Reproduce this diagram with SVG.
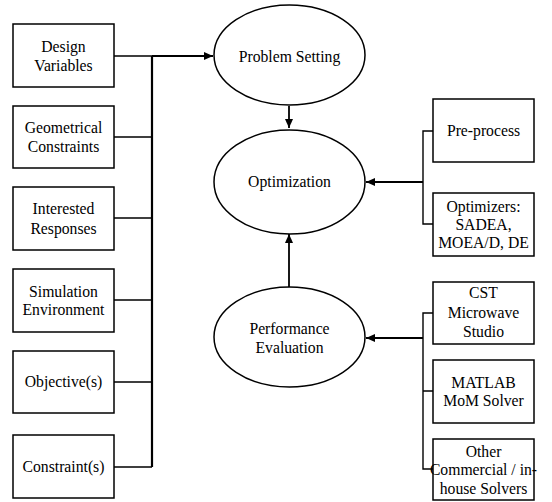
<svg xmlns="http://www.w3.org/2000/svg" width="552" height="502" viewBox="0 0 552 502">
<style>
.box{fill:#fff;stroke:#000;stroke-width:1.5}
.ell{fill:#fff;stroke:#000;stroke-width:1.5}
.ln{fill:none;stroke:#000;stroke-width:1.4}
.bus{fill:none;stroke:#000;stroke-width:2.2}
.t text{font-size:15.7px;text-anchor:middle;fill:#000}
</style>
<defs>
<marker id="ah" markerWidth="10" markerHeight="8" refX="9" refY="4" orient="auto" markerUnits="userSpaceOnUse">
<path d="M0,0 L9,4 L0,8 Z" fill="#000"/>
</marker>
</defs>
<rect width="552" height="502" fill="#fff"/>
<g id="connectors">
<path class="ln" d="M114,56 H152 M114,137 H152 M114,218 H152 M114,300 H152 M114,382 H152 M114,467 H152"/>
<path class="bus" d="M152,467 V56"/>
<path class="bus" d="M152,56 H213" marker-end="url(#ah)"/>
<path class="ln" d="M289,106 V128" marker-end="url(#ah)" style="stroke-width:1.8"/>
<path class="ln" d="M289,287 V234" marker-end="url(#ah)" style="stroke-width:1.8"/>
<path class="ln" d="M433,131 H423 V224 H433"/>
<path class="bus" d="M423,182 H366" marker-end="url(#ah)"/>
<path class="ln" d="M433,313 H423 V469 H433 M423,391 H433"/>
<path class="bus" d="M423,338 H366" marker-end="url(#ah)"/>
</g>
<g class="t" font-family="'Liberation Serif', 'Times New Roman', 'DejaVu Serif', serif">
<g id="design-variables"><rect class="box" x="13" y="24" width="101" height="63"/><text x="63.5" y="52">Design</text><text x="63.5" y="71">Variables</text></g>
<g id="geometrical-constraints"><rect class="box" x="13" y="106" width="101" height="62"/><text x="63.5" y="133">Geometrical</text><text x="63.5" y="152">Constraints</text></g>
<g id="interested-responses"><rect class="box" x="13" y="187" width="101" height="63"/><text x="63.5" y="214">Interested</text><text x="63.5" y="234">Responses</text></g>
<g id="simulation-environment"><rect class="box" x="13" y="269" width="101" height="63"/><text x="63.5" y="297">Simulation</text><text x="63.5" y="315">Environment</text></g>
<g id="objectives"><rect class="box" x="13" y="351" width="101" height="62"/><text x="63.5" y="387">Objective(s)</text></g>
<g id="constraints"><rect class="box" x="13" y="435" width="101" height="63"/><text x="63.5" y="472">Constraint(s)</text></g>
<g id="problem-setting"><ellipse class="ell" cx="289.5" cy="55" rx="75.5" ry="50"/><text x="289.5" y="62">Problem Setting</text></g>
<g id="optimization"><ellipse class="ell" cx="289.5" cy="182" rx="75.5" ry="52"/><text x="289.5" y="187">Optimization</text></g>
<g id="performance-evaluation"><ellipse class="ell" cx="289.5" cy="337" rx="75.5" ry="50"/><text x="289.5" y="334">Performance</text><text x="289.5" y="353">Evaluation</text></g>
<g id="pre-process"><rect class="box" x="433" y="99" width="101" height="63"/><text x="483.5" y="136">Pre-process</text></g>
<g id="optimizers"><rect class="box" x="433" y="193" width="101" height="63"/><text x="483.5" y="212">Optimizers:</text><text x="483.5" y="230">SADEA,</text><text x="483.5" y="248">MOEA/D, DE</text></g>
<g id="cst"><rect class="box" x="433" y="282" width="101" height="62"/><text x="483.5" y="298">CST</text><text x="483.5" y="318">Microwave</text><text x="483.5" y="337">Studio</text></g>
<g id="matlab"><rect class="box" x="433" y="360" width="101" height="63"/><text x="483.5" y="388">MATLAB</text><text x="483.5" y="406">MoM Solver</text></g>
<g id="other"><rect class="box" x="433" y="439" width="101" height="61"/><text x="483.5" y="457">Other</text><text x="483.5" y="475">Commercial / in-</text><text x="483.5" y="494">house Solvers</text></g>
</g>
</svg>
